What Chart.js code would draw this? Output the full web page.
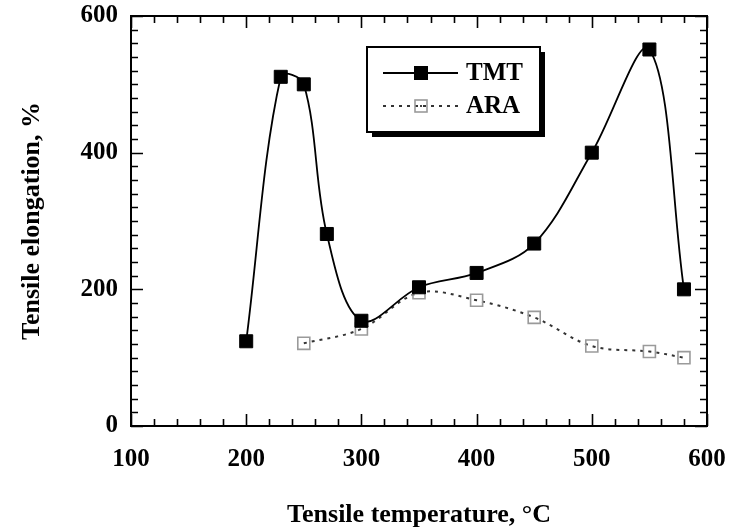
<!DOCTYPE html>
<html>
<head>
<meta charset="utf-8">
<script src="https://cdn.jsdelivr.net/npm/chart.js@4/dist/chart.umd.min.js"></script>
<style>
  html, body { margin: 0; padding: 0; background: #fff; }
</style>
</head>
<body>
<canvas id="chart" width="738" height="530"></canvas>
<script>
/* Tensile elongation vs tensile temperature — TMT and ARA */

const tmtTemps = [200, 230, 250, 270, 300, 350, 400, 450, 500, 550, 580];
const tmtElong = [124, 511, 500, 281, 154, 203, 224, 267, 400, 551, 200];
const araTemps = [250, 300, 350, 400, 450, 500, 550, 580];
const araElong = [121, 142, 195, 184, 159, 117, 109, 100];
const xTicks = [100, 200, 300, 400, 500, 600];
const yTicks = [0, 200, 400, 600];
const seriesNames = ['TMT', 'ARA'];

const serif = '"Liberation Serif", "Times New Roman", serif';

function toPoints(xs, ys) {
    return xs.map(function (x, i) { return { x: x, y: ys[i] }; });
}

// frame with inward ticks on all four sides
const framePlugin = {
    id: 'frame',
    beforeDatasetsDraw(chart) {
        const ctx = chart.ctx;
        const a = chart.chartArea;
        const xs = chart.scales.x;
        const ys = chart.scales.y;
        ctx.save();
        ctx.strokeStyle = '#000';
        ctx.lineWidth = 2;
        ctx.strokeRect(a.left, a.top, a.right - a.left, a.bottom - a.top);
        ctx.lineWidth = 1.6;
        ctx.beginPath();
        for (let v = xs.min; v <= xs.max; v += 20) {
            const px = Math.round(xs.getPixelForValue(v)) + 0.5;
            const len = v % 100 === 0 ? 12 : 7;
            ctx.moveTo(px, a.bottom); ctx.lineTo(px, a.bottom - len);
            ctx.moveTo(px, a.top); ctx.lineTo(px, a.top + len);
        }
        for (let v = ys.min; v <= ys.max; v += 20) {
            const py = Math.round(ys.getPixelForValue(v)) + 0.5;
            const len = v % 200 === 0 ? 12 : 7;
            ctx.moveTo(a.left, py); ctx.lineTo(a.left + len, py);
            ctx.moveTo(a.right, py); ctx.lineTo(a.right - len, py);
        }
        ctx.stroke();
        ctx.restore();
    }
};

// boxed legend with drop shadow inside the plot
const legendPlugin = {
    id: 'boxLegend',
    afterDatasetsDraw(chart) {
        const ctx = chart.ctx;
        const bx = 367, by = 47, bw = 173, bh = 85;
        ctx.save();
        ctx.fillStyle = '#000';
        ctx.fillRect(bx + 5, by + 5, bw, bh);
        ctx.fillStyle = '#fff';
        ctx.fillRect(bx, by, bw, bh);
        ctx.strokeStyle = '#000';
        ctx.lineWidth = 2;
        ctx.strokeRect(bx, by, bw, bh);

        const rows = [73, 106];
        chart.data.datasets.forEach(function (ds, i) {
            const y = rows[i];
            ctx.strokeStyle = ds.borderColor;
            ctx.lineWidth = ds.borderWidth;
            ctx.setLineDash(ds.borderDash || []);
            ctx.beginPath();
            ctx.moveTo(383, y); ctx.lineTo(458, y);
            ctx.stroke();
            ctx.setLineDash([]);
            const s = i === 0 ? 13 : 12;
            ctx.fillStyle = ds.pointBackgroundColor;
            ctx.fillRect(421 - s / 2, y - s / 2, s, s);
            ctx.strokeStyle = ds.pointBorderColor;
            ctx.lineWidth = ds.pointBorderWidth;
            ctx.strokeRect(421 - s / 2, y - s / 2, s, s);
            if (i === 1) {
                ctx.fillStyle = '#444';
                ctx.fillRect(420, y - 1, 2, 2);
            }
            ctx.fillStyle = '#000';
            ctx.font = 'bold 25px ' + serif;
            ctx.textBaseline = 'middle';
            ctx.fillText(ds.label, 466, y + 1);
        });
        ctx.restore();
    }
};

new Chart(document.getElementById('chart'), {
    type: 'line',
    data: {
        datasets: [{
            label: seriesNames[0],
            data: toPoints(tmtTemps, tmtElong),
            borderColor: '#000',
            borderWidth: 1.8,
            tension: 0.35,
            pointStyle: 'rect',
            pointRadius: 9.2,
            pointBackgroundColor: '#000',
            pointBorderColor: '#000',
            pointBorderWidth: 1,
            order: 0,
        }, {
            label: seriesNames[1],
            data: toPoints(araTemps, araElong),
            borderColor: '#333',
            borderWidth: 2,
            borderDash: [3, 5],
            tension: 0.35,
            pointStyle: 'rect',
            pointRadius: 8.5,
            pointBackgroundColor: 'rgba(255,255,255,0)',
            pointBorderColor: '#9a9a9a',
            pointBorderWidth: 1.6,
            order: 1,
        }],
    },
    options: {
        responsive: false,
        animation: false,
        devicePixelRatio: 1,
        layout: { padding: { top: 16, right: 31, left: 0, bottom: 0 } },
        plugins: {
            legend: { display: false },
            tooltip: { enabled: false },
        },
        scales: {
            x: {
                type: 'linear',
                min: 100,
                max: 600,
                afterFit: function (s) { s.height = 104; s.paddingLeft = 0; s.paddingRight = 0; },
                afterBuildTicks: function (s) { s.ticks = xTicks.map(function (v) { return { value: v }; }); },
                grid: { display: false, drawTicks: false },
                border: { display: false },
                ticks: {
                    padding: 19,
                    color: '#000',
                    maxRotation: 0,
                    font: { family: serif, size: 25, weight: 'bold' },
                },
                title: {
                    display: true,
                    text: 'Tensile temperature, \u00B0C',
                    color: '#000',
                    padding: 0,
                    font: { family: serif, size: 26, weight: 'bold', lineHeight: 1.1 },
                },
            },
            y: {
                min: 0,
                max: 600,
                afterFit: function (s) { s.width = 131; s.paddingTop = 0; s.paddingBottom = 0; },
                afterBuildTicks: function (s) { s.ticks = yTicks.map(function (v) { return { value: v }; }); },
                grid: { display: false, drawTicks: false },
                border: { display: false },
                ticks: {
                    padding: 13,
                    color: '#000',
                    font: { family: serif, size: 25, weight: 'bold' },
                },
                title: {
                    display: true,
                    text: 'Tensile elongation, %',
                    color: '#000',
                    padding: { top: 18, bottom: 0 },
                    font: { family: serif, size: 26, weight: 'bold', lineHeight: 1.1 },
                },
            },
        },
    },
    plugins: [framePlugin, legendPlugin],
});
</script>
</body>
</html>
